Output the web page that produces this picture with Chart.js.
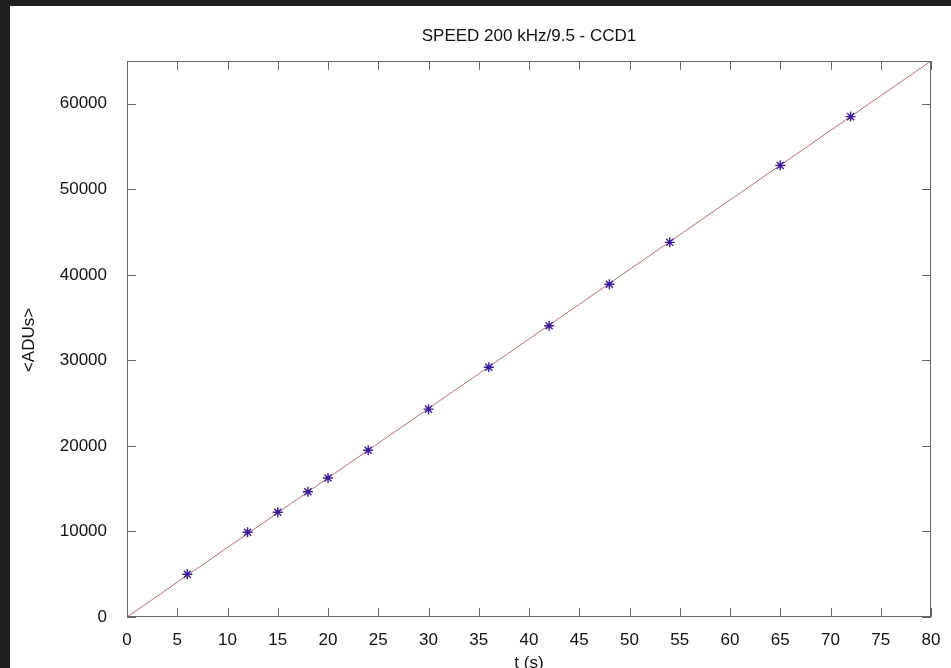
<!DOCTYPE html>
<html>
<head>
<meta charset="utf-8">
<script src="https://cdn.jsdelivr.net/npm/chart.js@4/dist/chart.umd.min.js"></script>
<style>
  html, body { margin: 0; padding: 0; background: #1f1f1f; }
  #wrap { position: absolute; left: 10px; top: 6px; width: 941px; height: 662px; background: #fff; }
</style>
</head>
<body>
<div id="wrap"><canvas id="mycanvas" width="941" height="662"></canvas></div>
<script>
// measured exposures and mean counts
var times = [6, 12, 15, 18, 20, 24, 30, 36, 42, 48, 54, 65, 72];
var adus = [5000, 9900, 12250, 14650, 16250, 19500, 24300, 29200, 34050, 38900, 43800, 52800, 58500];
// linear fit end points
var fitTimes = [0, 80];
var fitAdus = [0, 65000];
var xTicks = [0, 5, 10, 15, 20, 25, 30, 35, 40, 45, 50, 55, 60, 65, 70, 75, 80];
var yTicks = [0, 10000, 20000, 30000, 40000, 50000, 60000];

var titleText = 'SPEED 200 kHz/9.5 - CCD1';
var fontFam = '"Liberation Sans", Arial, Helvetica, sans-serif';

function pairs(xs, ys) {
    var out = [];
    for (var i in xs) out.push({ x: xs[i], y: ys[i] });
    return out;
}

// gnuplot style: inward ticks on all four sides, titles drawn by hand
var gnuplotFrame = {
    id: 'gnuplotFrame',
    afterDraw: function (chart) {
        var ctx = chart.ctx, a = chart.chartArea;
        var xs = chart.scales.x, ys = chart.scales.y;
        ctx.save();
        ctx.strokeStyle = '#666';
        ctx.lineWidth = 1;
        ctx.strokeRect(a.left + 0.5, a.top + 0.5, a.right - a.left - 1, a.bottom - a.top - 1);
        ctx.beginPath();
        xTicks.forEach(function (v) {
            var px = Math.round(xs.getPixelForValue(v)) + 0.5;
            ctx.moveTo(px, a.bottom); ctx.lineTo(px, a.bottom - 9);
            ctx.moveTo(px, a.top); ctx.lineTo(px, a.top + 9);
        });
        yTicks.forEach(function (v) {
            var py = Math.round(ys.getPixelForValue(v)) + 0.5;
            ctx.moveTo(a.left, py); ctx.lineTo(a.left + 9, py);
            ctx.moveTo(a.right, py); ctx.lineTo(a.right - 9, py);
        });
        ctx.stroke();

        ctx.fillStyle = '#111';
        ctx.textAlign = 'center';
        ctx.textBaseline = 'middle';
        ctx.font = '17px ' + fontFam;
        var cx = (a.left + a.right) / 2;
        ctx.fillText(titleText, cx, 30);
        ctx.fillText('t (s)', cx, 657);
        ctx.translate(19, 334);
        ctx.rotate(-Math.PI / 2);
        ctx.fillText('<ADUs>', 0, 0);
        ctx.restore();
    }
};

var chartdata = {
    datasets: [
        {
            label: 'fit',
            data: pairs(fitTimes, fitAdus),
            showLine: true,
            borderColor: '#b07070',
            borderWidth: 1,
            pointRadius: 0,
            order: 2
        },
        {
            label: '<ADUs>',
            data: pairs(times, adus),
            showLine: false,
            pointStyle: 'star',
            pointRadius: 5,
            borderColor: '#3a1a9a',
            backgroundColor: '#3a1a9a',
            pointBorderWidth: 1.4,
            order: 1
        }
    ]
};

var ctx = document.getElementById('mycanvas');
var mycanvas = new Chart(ctx, {
    type: 'scatter',
    data: chartdata,
    plugins: [gnuplotFrame],
    options: {
        responsive: false,
        animation: false,
        layout: { padding: { left: 0, right: 20, top: 55, bottom: 0 } },
        plugins: { legend: { display: false }, tooltip: { enabled: false } },
        scales: {
            x: {
                type: 'linear', min: 0, max: 80,
                afterBuildTicks: function (s) { s.ticks = xTicks.map(function (v) { return { value: v }; }); },
                afterFit: function (s) { s.height = 51; },
                grid: { display: false },
                border: { display: false },
                ticks: { color: '#111', padding: 5, maxRotation: 0, autoSkip: false, font: { family: fontFam, size: 17 } }
            },
            y: {
                type: 'linear', min: 0, max: 65000,
                afterBuildTicks: function (s) { s.ticks = yTicks.map(function (v) { return { value: v }; }); },
                afterFit: function (s) { s.width = 117; },
                grid: { display: false },
                border: { display: false },
                ticks: { color: '#111', padding: 12, autoSkip: false, font: { family: fontFam, size: 17 },
                    callback: function (v) { return String(v); } }
            }
        }
    }
});
</script>
</body>
</html>
